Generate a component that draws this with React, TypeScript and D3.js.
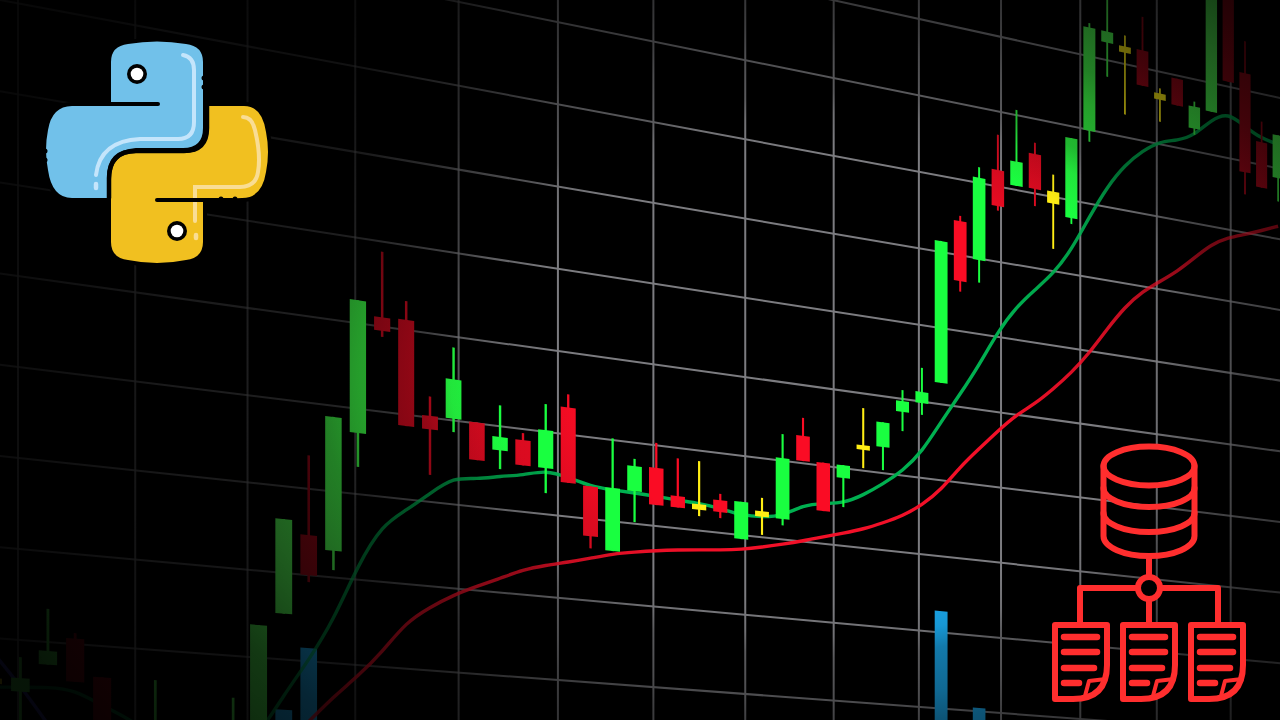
import { useEffect, useRef } from 'react';
import * as d3 from 'd3';

const WIDTH = 1280;
const HEIGHT = 720;

// candles, from index -1 (cut by the left edge) to 59
const opens = [35.6, 34.3, 37.5, 40.6, 36.5, 29.1, 26.5, 28.9, 27.9, 24.6, 28.2, 45.3, 54.65, 53.1, 67.15, 81.1, 81.2, 70.2, 70.2, 70.1, 67.1, 68.65, 65.6, 73.3, 64.0, 56.35, 64.0, 67.2, 64.0, 63.3, 64.1, 59.5, 63.3, 62.6, 73.5, 70.4, 68.75, 73.3, 73.4, 78.3, 79.8, 82.8, 104.5, 99.8, 112.2, 110.55, 115.3, 110.7, 107.6, 119.9, 132.4, 132.4, 132.4, 127.0, 129.55, 123.15, 126.0, 145.0, 132.4, 123.2, 118.6];
const closes = [35.0, 35.8, 39.0, 35.8, 28.95, 24.1, 30.4, 25.5, 23.4, 30.9, 43.75, 56.2, 50.0, 68.7, 82.7, 79.5, 68.65, 68.6, 74.9, 65.6, 68.7, 65.6, 70.2, 64.1, 57.9, 64.1, 67.1, 62.6, 62.6, 62.6, 62.6, 64.2, 62.6, 70.35, 70.3, 64.2, 70.4, 72.7, 76.6, 79.7, 81.25, 101.45, 96.6, 110.7, 107.4, 113.8, 110.6, 109.1, 118.4, 133.9, 133.9, 131.55, 127.55, 126.15, 125.85, 126.2, 145.8, 130.7, 118.5, 116.8, 124.65];
const highs = [35.9, 38.1, 43.65, 41.2, 36.5, 30.8, 36.6, 30, 30.2, 35.2, 43.75, 56.2, 63.9, 68.7, 82.7, 88.8, 83.4, 72.5, 78.7, 70.1, 72.5, 69.5, 73.35, 74.9, 64, 70.2, 68, 70.3, 68.7, 68.7, 64.9, 64.2, 65, 73.4, 75.8, 70.4, 70.4, 78.1, 76.6, 81.15, 84.4, 101.45, 105.2, 112.1, 116.9, 120.7, 116.8, 113, 118.4, 134.5, 139.6, 133.9, 137, 127.7, 129.55, 126.9, 147, 147, 136.9, 126.1, 124.65];
const lows = [34.3, 30.1, 37.5, 35.8, 28.4, 22.95, 26, 25, 23, 24, 27, 45.3, 49.2, 50.85, 63.2, 78.8, 68.65, 63.2, 68.6, 65.6, 64.85, 65.6, 62.55, 64.1, 56.4, 56.35, 60.2, 62.6, 62.6, 61.8, 61.85, 59.5, 60.3, 61.8, 70.3, 64.2, 65, 70.35, 70.4, 75.8, 78.25, 82.8, 95.2, 96.8, 106.8, 110.55, 108.3, 103, 106.8, 118.4, 127.75, 123.1, 127.55, 123.1, 125.85, 122.3, 126, 130.7, 115.4, 116.8, 115.3];
const candleTones = ['n','u','u','d','d','d','u','d','d','u','u','u','d','u','u','d','d','d','u','d','u','d','u','d','d','u','u','d','d','n','d','u','n','u','d','d','u','n','u','u','u','u','d','u','d','u','d','n','u','u','u','n','d','n','d','u','u','d','d','d','u'];

// moving averages, same indexing as the candles
const fastMa = [34.6, 34.8, 35.0, 34.9, 33.3, 32.15, 29.85, 27.75, 26.8, 28.1, 31.1, 35.9, 40.15, 45.0, 51.7, 56.7, 58.7, 61.0, 63.25, 63.3, 64.0, 64.4, 65.35, 64.8, 64.0, 63.85, 63.8, 63.7, 63.5, 63.4, 63.1, 62.5, 62.55, 63.0, 64.65, 65.2, 65.5, 66.85, 68.6, 70.6, 73.4, 77.7, 81.7, 85.9, 90.7, 94.4, 97.1, 99.65, 103.3, 108.2, 112.75, 116.2, 118.6, 120.4, 121.0, 122.2, 124.9, 126.4, 124.9, 123.7, 123.4];
const slowMaStart = 9;
const slowMa = [27.1, 30.1, 33.0, 36.1, 38.7, 41.75, 45.5, 47.5, 49.2, 50.5, 51.7, 53.0, 53.8, 54.45, 55.2, 56.0, 56.5, 56.95, 57.3, 57.6, 57.85, 58.2, 58.75, 59.4, 60.1, 60.9, 61.65, 62.45, 63.55, 64.75, 66.45, 68.75, 72.1, 74.8, 77.5, 80.0, 81.8, 84.15, 86.7, 89.75, 93.4, 96.8, 99.3, 101.1, 102.9, 105.2, 107.5, 108.9, 109.75, 110.75, 111.8];
const longMa = [38.45, 34.95, 30.9, 26.9];

// volume bars that reach into the frame
const volumeIndex = [10, 11, 40, 42];
const volumeTop = [34.2, 41.55, 52.8, 40.45];
const VOLUME_BASE = 10;

const priceRows = d3.range(30, 140, 10);
const gridColumns = d3.range(0, 14);

const DOJI = '#ffee14';
const GRID = '#7c7c80';
const FAST_COLOR = '#00b050';
const SLOW_COLOR = '#f21028';
const LONG_COLOR = '#3a3ac0';
const VOLUME_COLOR = '#1aa8ec';
const ICON_RED = '#ff2e2e';

// the chart plane is seen at an angle: rows run to a point far off to the right
const VANISH_X = 5500;
const PLANE_X = 5680;
const VANISH_Y = 1062;
const BODY_WIDTH = 0.155;
const WICK_WIDTH = 0.024;

const depth = d3.scaleLinear().domain([0, 13]).range([1, 1.28405]);
const planeY = d3.scaleLinear().domain([110, 40]).range([0, 638.4]);
const candleColumn = d3.scaleLinear().domain([0, 59]).range([0.02, 13.66]);

function project(column: number, price: number): [number, number] {
  const x = VANISH_X - (VANISH_X - 18) / depth(column);
  const y = VANISH_Y + (planeY(price) - VANISH_Y) * (PLANE_X - x) / PLANE_X;
  return [x, y];
}

function quad(column: number, halfWidth: number, top: number, bottom: number) {
  const pts = [
    project(column - halfWidth, top),
    project(column + halfWidth, top),
    project(column + halfWidth, bottom),
    project(column - halfWidth, bottom)
  ];
  return pts.map(p => p.join(',')).join(' ');
}

type Svg = d3.Selection<SVGSVGElement, unknown, null, undefined>;

// all the lens falloff shares one centre and one squeeze
function addRadial(defs: d3.Selection<SVGDefsElement, unknown, null, undefined>, id: string) {
  return defs.append('radialGradient')
    .attr('id', id)
    .attr('gradientUnits', 'userSpaceOnUse')
    .attr('cx', 830)
    .attr('cy', 375)
    .attr('r', 900)
    .attr('gradientTransform', 'translate(830,375) scale(1,0.69) translate(-830,-375)');
}

function addLinear(defs: d3.Selection<SVGDefsElement, unknown, null, undefined>, id: string, color: string, stops: number[][]) {
  const grad = defs.append('linearGradient')
    .attr('id', id)
    .attr('gradientUnits', 'userSpaceOnUse')
    .attr('x1', 0)
    .attr('x2', WIDTH)
    .attr('y1', 0)
    .attr('y2', 0);
  stops.forEach(([x, a]) => {
    grad.append('stop').attr('offset', x / WIDTH).attr('stop-color', color).attr('stop-opacity', a);
  });
}

export default function App() {
  const svgRef = useRef<SVGSVGElement>(null);

  useEffect(() => {
    if (!svgRef.current) return;
    const svg = d3.select(svgRef.current);
    svg.selectAll('*').remove();

    const defs = svg.append('defs');
    const fade = addRadial(defs, 'fade');
    [[0.367, 0], [0.422, 0.1], [0.455, 0.28], [0.522, 0.38], [0.567, 0.5], [0.622, 0.58], [0.678, 0.65], [0.778, 0.78], [0.922, 0.87], [1, 0.92]].forEach(([o, a]) => {
      fade.append('stop').attr('offset', o).attr('stop-color', '#000').attr('stop-opacity', a);
    });
    const upFill = addRadial(defs, 'upFill');
    [[0.367, '#19ff40'], [0.522, '#3cfe45'], [0.667, '#55ff55']].forEach(([o, c]) => {
      upFill.append('stop').attr('offset', o).attr('stop-color', c);
    });
    const downFill = addRadial(defs, 'downFill');
    [[0.278, '#fa0c24'], [0.356, '#dc0b20'], [0.45, '#cf0a1e'], [0.504, '#c0091c'], [0.61, '#960716'], [0.72, '#8a0714']].forEach(([o, c]) => {
      downFill.append('stop').attr('offset', o).attr('stop-color', c);
    });
    addLinear(defs, 'fastStroke', FAST_COLOR, [[350, 0.7], [500, 0.85], [600, 1], [1000, 1], [1100, 0.87]]);
    addLinear(defs, 'slowStroke', SLOW_COLOR, [[400, 0.85], [600, 0.92], [700, 1], [1000, 1], [1110, 0.85], [1160, 0.7], [1280, 0.67]]);
    addLinear(defs, 'gridStroke', GRID, [[150, 0.8], [250, 0.6], [355, 0.5], [458, 0.75], [558, 1], [1100, 1], [1200, 0.8]]);

    svg.append('rect').attr('width', WIDTH).attr('height', HEIGHT).attr('fill', '#000');

    // Rejilla
    const grid = svg.append('g').attr('stroke', 'url(#gridStroke)').attr('stroke-width', 2).attr('fill', 'none');
    priceRows.forEach(row => {
      const a = project(-2, row);
      const b = project(16, row);
      grid.append('line').attr('x1', a[0]).attr('y1', a[1]).attr('x2', b[0]).attr('y2', b[1]);
    });
    gridColumns.forEach(col => {
      const x = project(col, 0)[0];
      grid.append('line').attr('x1', x).attr('y1', 0).attr('x2', x).attr('y2', HEIGHT);
    });

    // Volumen
    volumeIndex.forEach((idx, k) => {
      svg.append('polygon')
        .attr('points', quad(candleColumn(idx), BODY_WIDTH / 2, volumeTop[k], VOLUME_BASE))
        .attr('fill', VOLUME_COLOR);
    });

    // Medias moviles
    const maLine = d3.line<[number, number]>()
      .x(d => project(candleColumn(d[0]), d[1])[0])
      .y(d => project(candleColumn(d[0]), d[1])[1])
      .curve(d3.curveBasis);
    const drawMa = (values: number[], start: number, stroke: string) => {
      svg.append('path')
        .attr('d', maLine(values.map((v, k) => [start + k, v] as [number, number])))
        .attr('fill', 'none')
        .attr('stroke', stroke)
        .attr('stroke-width', 3.4);
    };
    drawMa(longMa, -1, LONG_COLOR);
    drawMa(slowMa, slowMaStart, 'url(#slowStroke)');
    drawMa(fastMa, -1, 'url(#fastStroke)');

    // Velas
    opens.forEach((open, k) => {
      const idx = k - 1;
      const col = candleColumn(idx);
      const tone = candleTones[k];
      const color = tone === 'u' ? 'url(#upFill)' : tone === 'd' ? 'url(#downFill)' : DOJI;
      svg.append('polygon')
        .attr('points', quad(col, WICK_WIDTH / 2, highs[k], lows[k]))
        .attr('fill', color);
      svg.append('polygon')
        .attr('points', quad(col, BODY_WIDTH / 2, Math.max(open, closes[k]), Math.min(open, closes[k])))
        .attr('fill', color);
    });

    svg.append('rect').attr('width', WIDTH).attr('height', HEIGHT).attr('fill', 'url(#fade)');

    drawPythonLogo(svg);
    drawDataIcon(svg);
  }, []);

  return (
    <svg
      ref={svgRef}
      width={WIDTH}
      height={HEIGHT}
      style={{ position: 'absolute', left: 0, top: 0, display: 'block' }}
    />
  );
}

function drawPythonLogo(svg: Svg) {
  const g = svg.append('g');
  const bluePath = 'M111,104 L111,62 Q111,46 128,44 Q157,39 186,44 Q203,46 203,62 L203,128 Q203,148 183,148 L136,148 Q107,150 107,178 L107,198 L72,198 Q52,198 48,170 Q44,150 48,130 Q52,106 72,106 L158,106 L158,104 Z';
  const yellowPath = 'M208,106 L244,106 Q262,106 266,132 Q270,152 266,172 Q262,198 242,198 L203,200 L203,242 Q203,258 186,260 Q157,266 128,260 Q111,258 111,242 L111,180 Q111,153 136,153 L184,153 Q208,153 208,128 Z';

  // halo negro
  g.append('path').attr('d', bluePath).attr('fill', '#000').attr('stroke', '#000').attr('stroke-width', 8);
  g.append('path').attr('d', yellowPath).attr('fill', '#000').attr('stroke', '#000').attr('stroke-width', 8);
  g.append('path').attr('d', bluePath).attr('fill', '#71c1ea');
  g.append('path').attr('d', yellowPath).attr('fill', '#f1c020');

  const strokePath = (d: string, color: string, w: number) =>
    g.append('path').attr('d', d).attr('fill', 'none').attr('stroke', color).attr('stroke-width', w).attr('stroke-linecap', 'round');

  strokePath('M183,55 Q194,57 194,70 L194,122 Q194,139 178,139 L140,139 Q100,141 96,175', '#c4e5fb', 4);
  strokePath('M96,184 L96,188', '#c4e5fb', 4.5);
  strokePath('M243,117 Q252,117 255,130 Q261,155 258,172 Q256,187 240,187 L195,187 L195,221', '#f9dd94', 4);
  strokePath('M196,235 L196,238', '#f9dd94', 4.5);

  strokePath('M111,104 L158,104', '#000', 4);
  strokePath('M157,200 L232,200', '#000', 4);
  strokePath('M207,106 L207,128 Q207,151 184,151 L136,151 Q109,151 109,178 L109,198', '#000', 4.5);

  [[204, 78], [204, 87], [45, 151], [45, 160], [221, 199], [235, 199]].forEach(([cx, cy]) => {
    g.append('circle').attr('cx', cx).attr('cy', cy).attr('r', 2.5).attr('fill', '#000');
  });

  [[137, 74], [177, 231]].forEach(([cx, cy]) => {
    g.append('circle').attr('cx', cx).attr('cy', cy).attr('r', 10).attr('fill', '#000');
    g.append('circle').attr('cx', cx).attr('cy', cy).attr('r', 6.3).attr('fill', '#fff');
  });
}

function drawDataIcon(svg: Svg) {
  const g = svg.append('g')
    .attr('fill', 'none')
    .attr('stroke', ICON_RED)
    .attr('stroke-width', 6)
    .attr('stroke-linecap', 'round')
    .attr('stroke-linejoin', 'round');

  g.append('ellipse').attr('cx', 1149).attr('cy', 466).attr('rx', 45.5).attr('ry', 19.5).attr('fill', '#000');
  g.append('path').attr('d', 'M1103.5,466 L1103.5,536 A45.5,20 0 0 0 1194.5,536 L1194.5,466');
  g.append('path').attr('d', 'M1103.5,488 A45.5,19 0 0 0 1194.5,488');
  g.append('path').attr('d', 'M1103.5,513 A45.5,19 0 0 0 1194.5,513');

  g.append('path').attr('d', 'M1149,559 L1149,577');
  g.append('path').attr('d', 'M1138,588 L1080,588 L1080,622');
  g.append('path').attr('d', 'M1160,588 L1218,588 L1218,622');
  g.append('path').attr('d', 'M1149,599 L1149,622');
  g.append('circle').attr('cx', 1149).attr('cy', 588).attr('r', 11).attr('fill', '#000');

  [0, 68, 136].forEach(dx => {
    const doc = g.append('g').attr('transform', `translate(${dx},0)`);
    doc.append('path').attr('d', 'M1055,625 L1107,625 L1107,665 Q1107,699 1073,699 L1055,699 Z').attr('fill', '#000');
    doc.append('path').attr('d', 'M1106,679 L1089,681 L1085,696').attr('stroke-width', 4);
    doc.append('path').attr('d', 'M1064,637 L1097,637').attr('stroke-width', 6.5);
    doc.append('path').attr('d', 'M1064,652 L1097,652').attr('stroke-width', 6.5);
    doc.append('path').attr('d', 'M1064,668 L1094,668').attr('stroke-width', 6.5);
    doc.append('path').attr('d', 'M1064,683 L1079,683').attr('stroke-width', 6.5);
  });
}
